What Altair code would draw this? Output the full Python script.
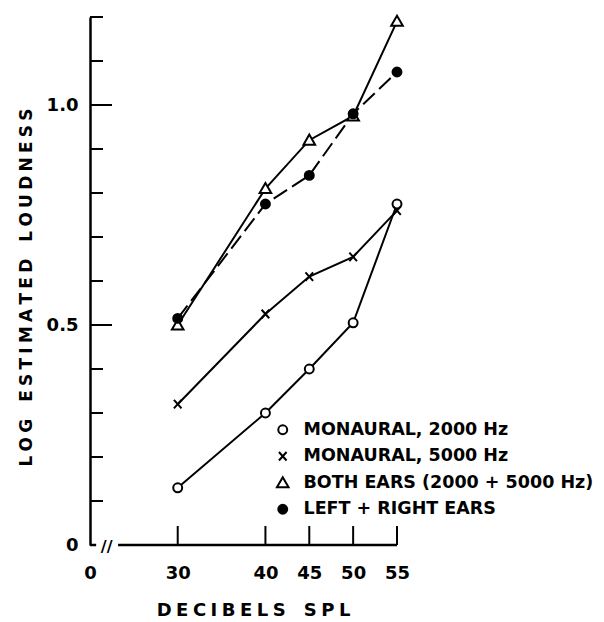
import altair as alt
import pandas as pd

# Sound pressure level (dB SPL) of each measurement
db = [30, 40, 45, 50, 55]

# Log estimated loudness for each condition
mon_2000 = [0.13, 0.30, 0.40, 0.505, 0.775]
mon_5000 = [0.32, 0.525, 0.61, 0.655, 0.76]
both_ears = [0.50, 0.81, 0.92, 0.975, 1.19]
left_right = [0.515, 0.775, 0.84, 0.98, 1.075]

series_names = [
    "MONAURAL, 2000 Hz",
    "MONAURAL, 5000 Hz",
    "BOTH EARS (2000 + 5000 Hz)",
    "LEFT + RIGHT EARS",
]
series_values = [mon_2000, mon_5000, both_ears, left_right]
dashed_series = "LEFT + RIGHT EARS"

# Axis furniture
x_tick_values = [30, 40, 45, 50, 55]
x_label_values = [20, 30, 40, 45, 50, 55]   # 20 dB sits at the broken origin, labelled "0"
y_label_values = [0, 0.5, 1.0]
y_minor_ticks = [0.1, 0.2, 0.3, 0.4, 0.6, 0.7, 0.8, 0.9, 1.1, 1.2]
y_major_ticks = [0.5, 1.0]
x_axis_start = [20, 23.2]
x_axis_end = [20.7, 55]
x_break_at = [21.9]

rows = []
for name, vals in zip(series_names, series_values):
    for d, v in zip(db, vals):
        rows.append({"db": d, "loudness": v, "series": name})
df = pd.DataFrame(rows)

FONT = "DejaVu Sans"
SP = "\u2005"


def spaced(text):
    """Wide, drafting-style lettering."""
    return (SP * 4).join(SP.join(word) for word in text.split(" "))


x_scale = alt.Scale(domain=[20, 55], nice=False, zero=False)
y_scale = alt.Scale(domain=[0, 1.2], nice=False, zero=False)

x_axis = alt.Axis(
    values=x_label_values,
    labelExpr="datum.value == 20 ? '0' : datum.label",
    domain=False, ticks=False, tickSize=0, grid=False, labelFlush=False,
    labelPadding=19, labelFontSize=18, labelFont=FONT, labelFontWeight="bold",
    labelColor="black",
    title=spaced("DECIBELS SPL"), titleFont=FONT, titleFontSize=18,
    titleFontWeight="bold", titleColor="black",
    titleX=163, titleY=65, titleBaseline="middle", titleAlign="center",
)
y_axis = alt.Axis(
    values=y_label_values,
    labelExpr="datum.value == 0 ? '0' : format(datum.value, '.1f')",
    domain=True, domainColor="black", domainWidth=2.5,
    ticks=False, tickSize=0, grid=False, labelFlush=False,
    labelPadding=12, labelFontSize=18, labelFont=FONT, labelFontWeight="bold",
    labelColor="black",
    title=spaced("LOG ESTIMATED LOUDNESS"), titleFont=FONT, titleFontSize=17,
    titleFontWeight="bold", titleColor="black",
    titleAngle=270, titleX=-64, titleY=270, titleBaseline="middle", titleAlign="center",
)

X_PATH = "M-0.85,-0.95L0.85,0.95M-0.85,0.95L0.85,-0.95"
TRI_PATH = "M0,-1.25L1.3,1L-1.3,1Z"


def make_legend():
    return alt.Legend(
        title=None, orient="none", legendX=184, legendY=404,
        labelFont=FONT, labelFontSize=17.5, labelFontWeight="bold", labelColor="black",
        labelLimit=400, labelOffset=12, rowPadding=7.5,
        symbolSize=80, symbolStrokeWidth=2,
    )


def xenc(field="db"):
    return alt.X(f"{field}:Q", scale=x_scale, axis=x_axis)


def yenc(field="loudness"):
    return alt.Y(f"{field}:Q", scale=y_scale, axis=y_axis)


solid_lines = alt.Chart(df).transform_filter(
    alt.datum.series != dashed_series
).mark_line(color="black", strokeWidth=2).encode(
    x=xenc(), y=yenc(), detail="series:N"
)
dashed_line = alt.Chart(df).transform_filter(
    alt.datum.series == dashed_series
).mark_line(color="black", strokeWidth=2, strokeDash=[16, 6]).encode(
    x=xenc(), y=yenc()
)

points = alt.Chart(df).mark_point(
    filled=True, stroke="black", strokeWidth=2, opacity=1, size=80
).encode(
    x=xenc(), y=yenc(),
    shape=alt.Shape(
        "series:N",
        scale=alt.Scale(domain=series_names, range=["circle", X_PATH, TRI_PATH, "circle"]),
        legend=make_legend(),
    ),
    fill=alt.Fill(
        "series:N",
        scale=alt.Scale(domain=series_names, range=["white", "black", "white", "black"]),
        legend=make_legend(),
    ),
)

# Inward-pointing ticks
y_minor = alt.Chart(pd.DataFrame({"loudness": y_minor_ticks})).mark_rule(
    color="black", strokeWidth=2
).encode(y=yenc(), x=alt.value(0), x2=alt.value(13))
y_major = alt.Chart(pd.DataFrame({"loudness": y_major_ticks})).mark_rule(
    color="black", strokeWidth=2
).encode(y=yenc(), x=alt.value(0), x2=alt.value(22))
x_ticks = alt.Chart(pd.DataFrame({"db": x_tick_values})).mark_rule(
    color="black", strokeWidth=2
).encode(x=xenc(), y=alt.value(528), y2=alt.value(509))

# Horizontal axis line, interrupted near the origin
x_line = alt.Chart(pd.DataFrame({"db": x_axis_start, "db_end": x_axis_end})).mark_rule(
    color="black", strokeWidth=2.5
).encode(x=xenc(), x2="db_end:Q", y=alt.value(528))
x_break = alt.Chart(pd.DataFrame({"db": x_break_at})).mark_text(
    text="//", font=FONT, fontSize=16, fontWeight="bold", color="black",
    baseline="middle", align="center",
).encode(x=xenc(), y=alt.value(530))

chart = alt.layer(
    solid_lines, dashed_line, y_minor, y_major, x_ticks, x_line, x_break, points
).properties(
    width=307, height=528,
    autosize=alt.AutoSizeParams(type="none"),
    padding={"left": 90, "top": 17, "right": 207, "bottom": 77},
    background="white",
).configure_view(stroke=None)

chart.save("out.html", embed_options={"renderer": "svg", "actions": False})
